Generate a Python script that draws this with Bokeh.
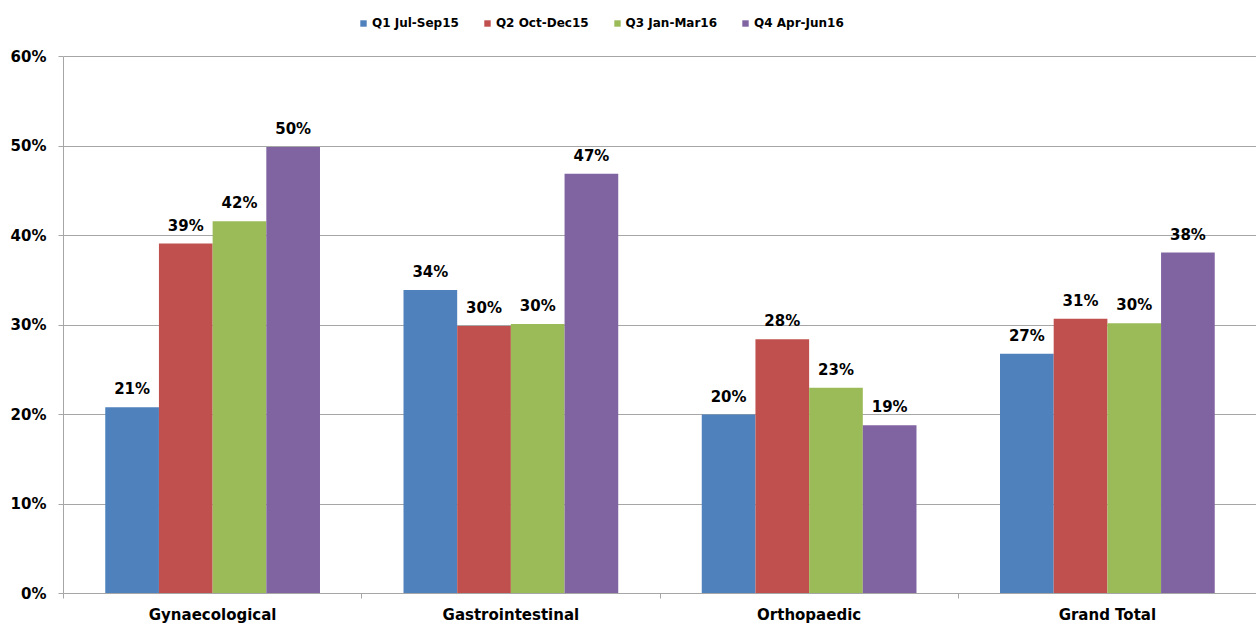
from bokeh.plotting import figure
from bokeh.models import ColumnDataSource, FixedTicker, Legend, LegendItem, Range1d
from bokeh.embed import file_html
from bokeh.resources import INLINE

categories = ["Gynaecological", "Gastrointestinal", "Orthopaedic", "Grand Total"]
series = ["Q1 Jul-Sep15", "Q2 Oct-Dec15", "Q3 Jan-Mar16", "Q4 Apr-Jun16"]
q1 = [20.8, 33.9, 20.0, 26.8]
q2 = [39.1, 29.9, 28.4, 30.7]
q3 = [41.6, 30.1, 23.0, 30.2]
q4 = [49.9, 46.9, 18.8, 38.1]
values = [q1, q2, q3, q4]
colors = ["#4F81BD", "#C0504D", "#9BBB59", "#8064A2"]
y_ticks = [0, 10, 20, 30, 40, 50, 60]

FONT = "DejaVu Sans"
offsets = [-0.27, -0.09, 0.09, 0.27]
bar_w = 0.18

# frame runs from y=5 to y=593; the 0..60 axis occupies the lower 537 px
p = figure(width=1256, height=626, output_backend="svg", toolbar_location=None,
           x_range=Range1d(0, len(categories)), y_range=Range1d(0, 60 * 588 / 537),
           min_border_left=63, min_border_right=0, min_border_top=5, min_border_bottom=33)
p.outline_line_color = None
p.background_fill_color = "white"

items = []
for s, vals, col, off in zip(series, values, colors, offsets):
    xs = [i + 0.5 + off for i in range(len(categories))]
    src = ColumnDataSource(dict(x=xs, top=vals, lab=["%d%%" % round(v) for v in vals]))
    r = p.vbar(x="x", top="top", width=bar_w, source=src, fill_color=col, line_color=None)
    p.text(x="x", y="top", text="lab", source=src, text_align="center", text_baseline="bottom",
           y_offset=-9, text_font_size="15px", text_font_style="bold", text_color="black",
           text_font={"value": FONT})
    items.append(LegendItem(label=s, renderers=[r]))

legend = Legend(items=items, orientation="horizontal", location=(296, 563),
                label_text_font=FONT, label_text_font_size="12px", label_text_font_style="bold",
                label_text_color="black",
                glyph_width=8, glyph_height=8, label_standoff=5, spacing=24,
                padding=0, margin=0, border_line_color=None, background_fill_alpha=0,
                label_height=12)
p.add_layout(legend)

p.xgrid.visible = False
p.ygrid.grid_line_color = "#a6a6a6"
p.ygrid.ticker = FixedTicker(ticks=y_ticks)

p.yaxis.ticker = FixedTicker(ticks=y_ticks)
p.yaxis.bounds = (0, 60)
p.yaxis.major_label_overrides = {t: "%d%%" % t for t in y_ticks}
p.yaxis.axis_line_color = "#a6a6a6"
p.yaxis.major_tick_line_color = "#a6a6a6"
p.yaxis.major_tick_out = 5
p.yaxis.major_tick_in = 0
p.yaxis.minor_tick_line_color = None
p.yaxis.major_label_standoff = 12
p.yaxis.major_label_text_font = FONT
p.yaxis.major_label_text_font_size = "15px"
p.yaxis.major_label_text_font_style = "bold"
p.yaxis.major_label_text_color = "black"

centers = [i + 0.5 for i in range(len(categories))]
p.xaxis.ticker = FixedTicker(ticks=centers, minor_ticks=list(range(len(categories) + 1)))
p.xaxis.major_label_overrides = {c: n for c, n in zip(centers, categories)}
p.xaxis.axis_line_color = "#a6a6a6"
p.xaxis.major_tick_line_color = None
p.xaxis.minor_tick_line_color = "#a6a6a6"
p.xaxis.minor_tick_out = 5
p.xaxis.minor_tick_in = 0
p.xaxis.major_label_standoff = 6
p.xaxis.major_label_text_font = FONT
p.xaxis.major_label_text_font_size = "15px"
p.xaxis.major_label_text_font_style = "bold"
p.xaxis.major_label_text_color = "black"

open("out.html", "w").write(file_html(p, INLINE))
